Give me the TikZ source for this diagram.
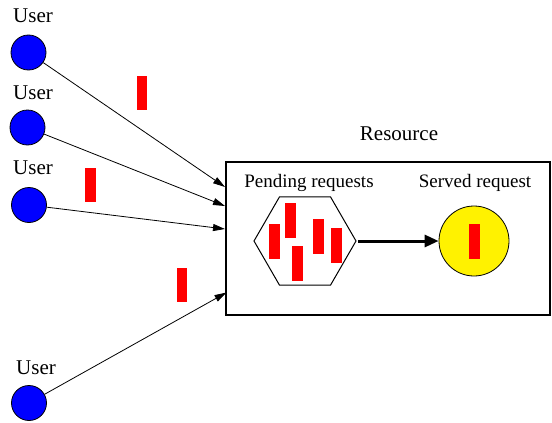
\documentclass[tikz,border=0pt]{standalone}
\usepackage{fontspec}
\setmainfont{Liberation Serif}
\usetikzlibrary{arrows.meta,shapes.geometric}
\begin{document}
\begin{tikzpicture}[x=1pt,y=-1pt,
  user/.style={circle,draw=black,line width=0.8pt,fill=blue,minimum size=35pt,inner sep=0pt},
  msg/.style={rectangle,fill=red,draw=none,minimum width=11pt,minimum height=35pt,inner sep=0pt},
  lbl/.style={font=\fontsize{21}{24}\selectfont,inner sep=0pt},
  small/.style={font=\fontsize{19}{22}\selectfont,inner sep=0pt},
  req/.style={draw=black,line width=0.8pt,-{Triangle[length=12pt,width=7pt]}}]
\useasboundingbox (0,0) rectangle (552,423);
% users
\node[user] (u1) at (28.5,52.5) {};
\node[user] (u2) at (27.5,127.5) {};
\node[user] (u3) at (29,205) {};
\node[user] (u4) at (29,403) {};
\node[lbl,anchor=base] (l1) at (33,22) {User};
\node[lbl,anchor=base] (l2) at (33,99) {User};
\node[lbl,anchor=base] (l3) at (33,174) {User};
\node[lbl,anchor=base] (l4) at (36,374) {User};
% resource
\node[draw=black,line width=1.1pt,minimum width=324pt,minimum height=153pt,inner sep=0pt] (box) at (388,238.5) {};
\node[lbl,anchor=base] (res) at (399,140) {Resource};
\node[small,anchor=base] (pend) at (309,187) {Pending requests};
\node[small,anchor=base] (serv) at (475,187) {Served request};
% connector end points
\coordinate (t1) at (225,187);
\coordinate (t2) at (225,206);
\coordinate (t3) at (225,229);
\coordinate (t4) at (226.5,292.5);
\draw[req] (u1) -- (t1);
\draw[req] (u2) -- (t2);
\draw[req] (u3) -- (t3);
\draw[req] (u4) -- (t4);
% messages in transit
\node[msg,minimum width=10pt,minimum height=34pt] (m1) at (142,93) {};
\node[msg,minimum width=11pt,minimum height=34pt] (m2) at (90.5,185) {};
\node[msg,minimum width=10pt,minimum height=34pt] (m3) at (182,285) {};
% queue
\node[regular polygon,regular polygon sides=6,draw=black,line width=1pt,minimum size=102pt,inner sep=0pt] (hex) at (305,241) {};
\node[msg] (q1) at (274.5,241.5) {};
\node[msg] (q2) at (290.5,220) {};
\node[msg] (q3) at (297,263) {};
\node[msg] (q4) at (318,236) {};
\node[msg] (q5) at (336.5,245) {};
% served
\node[circle,draw=black,line width=0.8pt,fill=yellow,minimum size=70pt,inner sep=0pt] (srv) at (474,241) {};
\node[msg] (s1) at (474,241.7) {};
\coordinate (hs) at (358,241);
\draw[line width=3pt,-{Triangle[length=14pt,width=12pt]}] (hs) -- (srv.west);
\end{tikzpicture}
\end{document}
